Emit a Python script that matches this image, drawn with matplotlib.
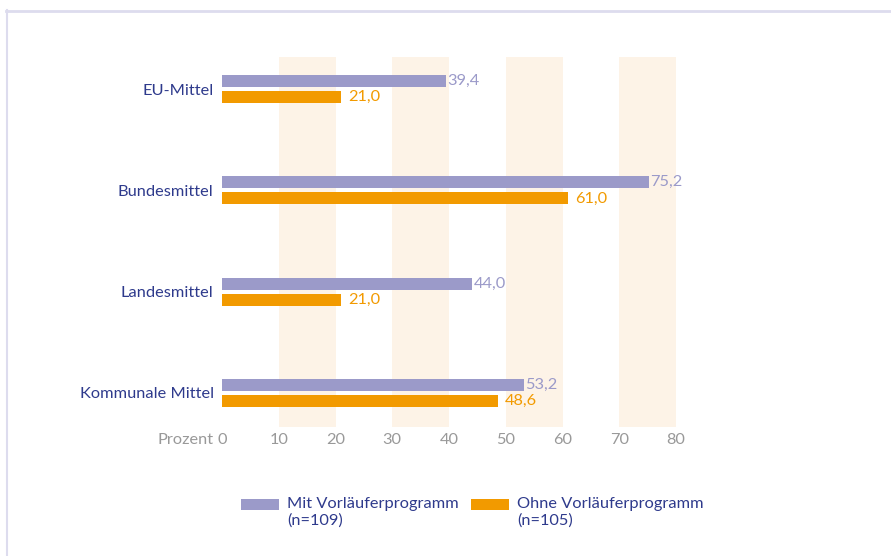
import matplotlib
matplotlib.use("Agg")
import matplotlib.pyplot as plt
from matplotlib.patches import Rectangle
from matplotlib.lines import Line2D

categories = ["EU-Mittel", "Bundesmittel", "Landesmittel", "Kommunale Mittel"]
mit_values = [39.4, 75.2, 44.0, 53.2]
ohne_values = [21.0, 61.0, 21.0, 48.6]
mit_label = "Mit Vorläuferprogramm\n(n=109)"
ohne_label = "Ohne Vorläuferprogramm\n(n=105)"
x_ticks = [0, 10, 20, 30, 40, 50, 60, 70, 80]

purple = "#9b9ac9"
orange = "#f29a00"
navy = "#2e3a8c"
gray = "#999999"
band = "#fdf3e7"

plt.rcParams["font.family"] = ["Lato", "DejaVu Sans"]
fs = 11.8

fig = plt.figure(figsize=(8.91, 5.56), dpi=100)
ax = fig.add_axes([222 / 891, 1 - 427 / 556, 454 / 891, 370 / 556])

# shaded bands every other decade
for lo in range(10, 80, 20):
    ax.axvspan(lo, lo + 10, color=band, lw=0, zorder=0)

ypos = list(range(len(categories)))
h = 0.118
off = 0.08
ax.barh([y - off for y in ypos], mit_values, height=h, color=purple, zorder=2)
ax.barh([y + off for y in ypos], ohne_values, height=h, color=orange, zorder=2)

for y, v in zip(ypos, mit_values):
    ax.text(v + 0.3, y - off, f"{v:.1f}".replace(".", ","), color=purple,
            va="center", ha="left", fontsize=fs)
for y, v in zip(ypos, ohne_values):
    ax.text(v + 1.3, y + off, f"{v:.1f}".replace(".", ","), color=orange,
            va="center", ha="left", fontsize=fs)

ax.set_xlim(0, 80)
ax.set_ylim(3.336, -0.316)
ax.set_yticks(ypos)
ax.set_yticklabels(categories, color=navy, fontsize=fs)
ax.set_xticks(x_ticks)
ax.set_xticklabels([str(t) for t in x_ticks], color=gray, fontsize=fs)
ax.tick_params(axis="y", length=0, pad=6)
ax.tick_params(axis="x", length=0, pad=4)
for s in ax.spines.values():
    s.set_visible(False)

ax.annotate("Prozent", xy=(0, 0), xycoords="axes fraction",
            xytext=(-6, -4), textcoords="offset points",
            ha="right", va="top", color=gray, fontsize=fs)

# legend drawn by hand
W, H = 891, 556
for px, col, lab in [(241, purple, mit_label), (471, orange, ohne_label)]:
    fig.add_artist(Rectangle((px / W, 1 - 510 / H), 38 / W, 11 / H,
                             transform=fig.transFigure, color=col, lw=0))
    fig.text((px + 46) / W, 1 - 497 / H, lab, color=navy, fontsize=fs,
             va="top", ha="left", linespacing=1.2)

# light frame at top and left
fig.add_artist(Line2D([6 / W, 1], [1 - 10.5 / H, 1 - 10.5 / H],
                      transform=fig.transFigure, color="#dddcee", lw=2))
fig.add_artist(Line2D([6.5 / W, 6.5 / W], [0, 1 - 10 / H],
                      transform=fig.transFigure, color="#dddcee", lw=1.5))

fig.savefig("out.png", dpi=100)
